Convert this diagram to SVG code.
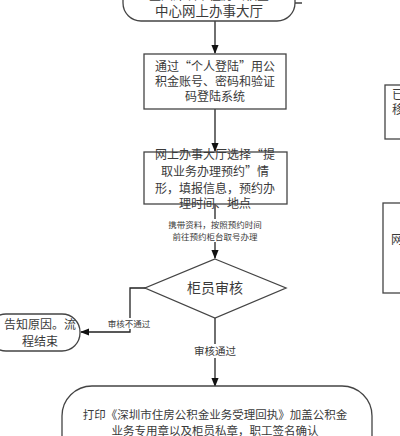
<svg xmlns="http://www.w3.org/2000/svg" width="400" height="436" viewBox="0 0 400 436">
<defs>
<style>
.b{fill:#fff;stroke:#444;stroke-width:1.3}
.t{font-family:"Noto Sans CJK SC","Liberation Sans",sans-serif;fill:#3a3a3a;text-anchor:middle}
.m{font-size:12px}
.s{font-size:8.5px}
.c{stroke:#222;stroke-width:1.3;fill:none}
</style>
<marker id="a" viewBox="0 0 10 10" refX="9" refY="5" markerWidth="7" markerHeight="7" orient="auto"><path d="M0,1 L10,5 L0,9 z" fill="#111"/></marker>
</defs>
<rect width="400" height="436" fill="#fff"/>
<g id="connectors">
<line class="c" x1="295" y1="3" x2="302" y2="3"/>
<line class="c" x1="215" y1="21" x2="215" y2="53" marker-end="url(#a)"/>
<line class="c" x1="215" y1="109" x2="215" y2="151" marker-end="url(#a)"/>
<line class="c" x1="215" y1="204" x2="215" y2="258" marker-end="url(#a)"/>
<rect x="148" y="219" width="134" height="23" fill="#fff"/>
<text class="t s" x="215" y="228">携带资料，按照预约时间</text>
<text class="t s" x="215" y="240">前往预约柜台取号办理</text>
<polyline class="c" points="146,288 130,288 130,332 81,332" marker-end="url(#a)"/>
<rect x="104" y="318" width="50" height="11" fill="#fff"/>
<text class="t s" x="129" y="327">审核不通过</text>
<line class="c" x1="215" y1="318" x2="215" y2="386" marker-end="url(#a)"/>
<rect x="188" y="344" width="54" height="14" fill="#fff"/>
<text class="t" x="215" y="355" style="font-size:10.5px">审核通过</text>
</g>
<g id="n1">
<rect class="b" x="123" y="-20" width="172" height="41" rx="18"/>
<text class="t m" x="209" y="0">登陆深圳市住房公积金</text>
<text class="t" x="209" y="16" style="font-size:13.5px">中心网上办事大厅</text>
</g>
<g id="n2">
<rect class="b" x="144" y="54" width="142" height="55"/>
<text class="t m" x="215" y="71">通过“个人登陆”用公</text>
<text class="t m" x="215" y="86">积金账号、密码和验证</text>
<text class="t m" x="215" y="101">码登陆系统</text>
</g>
<g id="n3">
<rect class="b" x="144" y="152" width="143" height="52"/>
<text class="t m" x="215" y="159">网上办事大厅选择“提</text>
<text class="t m" x="215" y="176">取业务办理预约”情</text>
<text class="t m" x="215" y="193">形，填报信息，预约办</text>
<text class="t m" x="215" y="208">理时间、地点</text>
</g>
<g id="n4">
<polygon class="b" points="215,259 286,288 215,318 145,288"/>
<text class="t" x="215" y="293" style="font-size:14px">柜员审核</text>
</g>
<g id="n5">
<rect class="b" x="-12" y="314" width="92" height="37" rx="18"/>
<text class="t m" x="40" y="329">告知原因。流</text>
<text class="t m" x="40" y="346">程结束</text>
</g>
<g id="n6">
<rect class="b" x="62" y="386" width="310" height="80" rx="30"/>
<text class="t" x="215" y="419" style="font-size:11.5px">打印《深圳市住房公积金业务受理回执》加盖公积金</text>
<text class="t" x="215" y="435" style="font-size:11.5px">业务专用章以及柜员私章，职工签名确认</text>
</g>
<g id="n7">
<rect class="b" x="385" y="85" width="30" height="54"/>
<text class="t m" x="398" y="99">已</text>
<text class="t m" x="398" y="114">移</text>
</g>
<g id="n8">
<rect class="b" x="383" y="203" width="30" height="90"/>
<text class="t m" x="397" y="244">网</text>
</g>
</svg>
